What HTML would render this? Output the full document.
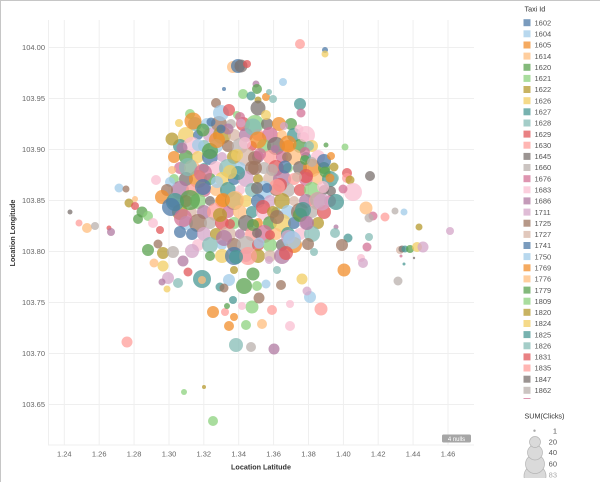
<!DOCTYPE html>
<html><head><meta charset="utf-8"><style>
html,body{margin:0;padding:0;background:#fff;}
body{width:600px;height:482px;overflow:hidden;}
svg{display:block;font-family:"Liberation Sans",sans-serif;}
.pts circle{fill-opacity:.75}
.lt{fill:#86BCB6}.o{fill:#F28E2B}.pu{fill:#B07AA1}.lb{fill:#A0CBE8}.g{fill:#59A14F}
.p{fill:#FF9D9A}.br{fill:#9D7660}.y{fill:#F1CE63}.m{fill:#D37295}.lgr{fill:#BAB0AC}
.b{fill:#4E79A7}.lo{fill:#FFBE7D}.r{fill:#E15759}.lpu{fill:#D4A6C8}.t{fill:#499894}
.lg{fill:#8CD17D}.ol{fill:#B6992D}.lp{fill:#FABFD2}.gr{fill:#79706E}.tn{fill:#D7B5A6}
.sw rect{fill-opacity:.75}
.tk{font-size:7.5px;fill:#666}
.lt2{font-size:7.5px;fill:#555}
</style></head><body>
<svg width="600" height="482" viewBox="0 0 600 482" xmlns="http://www.w3.org/2000/svg">
<rect x="0" y="0" width="600" height="482" fill="#fff"/>
<line x1="0.5" y1="0" x2="0.5" y2="482" stroke="#c6c6c6" stroke-width="1"/>
<line x1="0" y1="0.5" x2="600" y2="0.5" stroke="#c6c6c6" stroke-width="1"/>
<defs><clipPath id="lc"><rect x="515" y="0" width="85" height="399"/></clipPath>
<clipPath id="sc"><rect x="515" y="420" width="85" height="58"/></clipPath></defs>
<!-- grid -->
<g stroke="#efefef" stroke-width="1">
<line x1="48.5" y1="20" x2="48.5" y2="445"/>
<line x1="64.3" y1="20" x2="64.3" y2="445"/><line x1="99.2" y1="20" x2="99.2" y2="445"/>
<line x1="134.1" y1="20" x2="134.1" y2="445"/><line x1="169" y1="20" x2="169" y2="445"/>
<line x1="203.8" y1="20" x2="203.8" y2="445"/><line x1="238.7" y1="20" x2="238.7" y2="445"/>
<line x1="273.6" y1="20" x2="273.6" y2="445"/><line x1="308.5" y1="20" x2="308.5" y2="445"/>
<line x1="343.4" y1="20" x2="343.4" y2="445"/><line x1="378.2" y1="20" x2="378.2" y2="445"/>
<line x1="413.1" y1="20" x2="413.1" y2="445"/><line x1="448" y1="20" x2="448" y2="445"/>
<line x1="48" y1="47.5" x2="474" y2="47.5"/><line x1="48" y1="98.5" x2="474" y2="98.5"/>
<line x1="48" y1="149.5" x2="474" y2="149.5"/><line x1="48" y1="200.5" x2="474" y2="200.5"/>
<line x1="48" y1="251.5" x2="474" y2="251.5"/><line x1="48" y1="302.5" x2="474" y2="302.5"/>
<line x1="48" y1="353.5" x2="474" y2="353.5"/><line x1="48" y1="404.5" x2="474" y2="404.5"/>
<line x1="48" y1="445" x2="474" y2="445"/>
</g>
<!-- y ticks -->
<g class="tk" text-anchor="end">
<text x="45" y="50.2">104.00</text><text x="45" y="101.2">103.95</text>
<text x="45" y="152.2">103.90</text><text x="45" y="203.2">103.85</text>
<text x="45" y="254.2">103.80</text><text x="45" y="305.2">103.75</text>
<text x="45" y="356.2">103.70</text><text x="45" y="407.2">103.65</text>
</g>
<g class="tk" text-anchor="middle">
<text x="64.3" y="456.7">1.24</text><text x="99.2" y="456.7">1.26</text>
<text x="134.1" y="456.7">1.28</text><text x="169" y="456.7">1.30</text>
<text x="203.8" y="456.7">1.32</text><text x="238.7" y="456.7">1.34</text>
<text x="273.6" y="456.7">1.36</text><text x="308.5" y="456.7">1.38</text>
<text x="343.4" y="456.7">1.40</text><text x="378.2" y="456.7">1.42</text>
<text x="413.1" y="456.7">1.44</text><text x="448" y="456.7">1.46</text>
</g>
<text x="261" y="469.5" text-anchor="middle" font-size="7.2" font-weight="bold" fill="#333">Location Latitude</text>
<text transform="translate(15,233) rotate(-90)" text-anchor="middle" font-size="7.2" font-weight="bold" fill="#333">Location Longitude</text>
<!-- nulls -->
<rect x="442" y="434.5" width="29" height="8" rx="1.5" fill="#a6a6a6"/>
<text x="456.5" y="441" text-anchor="middle" font-size="6" fill="#fff">4 nulls</text>
<!-- points -->
<g class="pts">
<!-- filler core -->
<circle class="lt" cx="195" cy="124" r="7"/><circle class="lb" cx="207" cy="124" r="6"/><circle class="br" cx="219" cy="124" r="8"/><circle class="lgr" cx="231" cy="124" r="5"/><circle class="r" cx="243" cy="124" r="7"/><circle class="lg" cx="255" cy="124" r="9"/><circle class="gr" cx="267" cy="124" r="6"/><circle class="o" cx="279" cy="124" r="7"/><circle class="g" cx="291" cy="124" r="6"/>
<circle class="y" cx="186" cy="135" r="8"/><circle class="b" cx="198" cy="135" r="5"/><circle class="lpu" cx="210" cy="135" r="7"/><circle class="ol" cx="222" cy="135" r="9"/><circle class="tn" cx="234" cy="135" r="6"/><circle class="pu" cx="246" cy="135" r="7"/><circle class="p" cx="258" cy="135" r="6"/><circle class="m" cx="270" cy="135" r="8"/><circle class="lo" cx="282" cy="135" r="5"/><circle class="t" cx="294" cy="135" r="7"/><circle class="lp" cx="306" cy="135" r="9"/>
<circle class="t" cx="180" cy="146" r="7"/><circle class="lp" cx="192" cy="146" r="9"/><circle class="lt" cx="204" cy="146" r="6"/><circle class="lb" cx="216" cy="146" r="7"/><circle class="br" cx="228" cy="146" r="6"/><circle class="lgr" cx="240" cy="146" r="8"/><circle class="r" cx="252" cy="146" r="5"/><circle class="lg" cx="264" cy="146" r="7"/><circle class="gr" cx="276" cy="146" r="9"/><circle class="o" cx="288" cy="146" r="6"/><circle class="g" cx="300" cy="146" r="7"/><circle class="y" cx="312" cy="146" r="6"/>
<circle class="o" cx="174" cy="157" r="6"/><circle class="g" cx="186" cy="157" r="7"/><circle class="y" cx="198" cy="157" r="6"/><circle class="b" cx="210" cy="157" r="8"/><circle class="lpu" cx="222" cy="157" r="5"/><circle class="ol" cx="234" cy="157" r="7"/><circle class="tn" cx="246" cy="157" r="9"/><circle class="pu" cx="258" cy="157" r="6"/><circle class="p" cx="270" cy="157" r="7"/><circle class="m" cx="282" cy="157" r="6"/><circle class="lo" cx="294" cy="157" r="8"/><circle class="t" cx="306" cy="157" r="5"/><circle class="lp" cx="318" cy="157" r="7"/>
<circle class="m" cx="180" cy="168" r="6"/><circle class="lo" cx="192" cy="168" r="8"/><circle class="t" cx="204" cy="168" r="5"/><circle class="lp" cx="216" cy="168" r="7"/><circle class="lt" cx="228" cy="168" r="9"/><circle class="lb" cx="240" cy="168" r="6"/><circle class="br" cx="252" cy="168" r="7"/><circle class="lgr" cx="264" cy="168" r="6"/><circle class="r" cx="276" cy="168" r="8"/><circle class="lg" cx="288" cy="168" r="5"/><circle class="gr" cx="300" cy="168" r="7"/><circle class="o" cx="312" cy="168" r="9"/><circle class="g" cx="324" cy="168" r="6"/>
<circle class="lg" cx="174" cy="179" r="5"/><circle class="gr" cx="186" cy="179" r="7"/><circle class="o" cx="198" cy="179" r="9"/><circle class="g" cx="210" cy="179" r="6"/><circle class="y" cx="222" cy="179" r="7"/><circle class="b" cx="234" cy="179" r="6"/><circle class="lpu" cx="246" cy="179" r="8"/><circle class="ol" cx="258" cy="179" r="5"/><circle class="tn" cx="270" cy="179" r="7"/><circle class="pu" cx="282" cy="179" r="9"/><circle class="p" cx="294" cy="179" r="6"/><circle class="m" cx="306" cy="179" r="7"/><circle class="lo" cx="318" cy="179" r="6"/><circle class="t" cx="330" cy="179" r="8"/>
<circle class="pu" cx="180" cy="190" r="9"/><circle class="p" cx="192" cy="190" r="6"/><circle class="m" cx="204" cy="190" r="7"/><circle class="lo" cx="216" cy="190" r="6"/><circle class="t" cx="228" cy="190" r="8"/><circle class="lp" cx="240" cy="190" r="5"/><circle class="lt" cx="252" cy="190" r="7"/><circle class="lb" cx="264" cy="190" r="9"/><circle class="br" cx="276" cy="190" r="6"/><circle class="lgr" cx="288" cy="190" r="7"/><circle class="r" cx="300" cy="190" r="6"/><circle class="lg" cx="312" cy="190" r="8"/><circle class="gr" cx="324" cy="190" r="5"/>
<circle class="lgr" cx="174" cy="201" r="7"/><circle class="r" cx="186" cy="201" r="6"/><circle class="lg" cx="198" cy="201" r="8"/><circle class="gr" cx="210" cy="201" r="5"/><circle class="o" cx="222" cy="201" r="7"/><circle class="g" cx="234" cy="201" r="9"/><circle class="y" cx="246" cy="201" r="6"/><circle class="b" cx="258" cy="201" r="7"/><circle class="lpu" cx="270" cy="201" r="6"/><circle class="ol" cx="282" cy="201" r="8"/><circle class="tn" cx="294" cy="201" r="5"/><circle class="pu" cx="306" cy="201" r="7"/><circle class="p" cx="318" cy="201" r="9"/><circle class="m" cx="330" cy="201" r="6"/>
<circle class="ol" cx="180" cy="212" r="8"/><circle class="tn" cx="192" cy="212" r="5"/><circle class="pu" cx="204" cy="212" r="7"/><circle class="p" cx="216" cy="212" r="9"/><circle class="m" cx="228" cy="212" r="6"/><circle class="lo" cx="240" cy="212" r="7"/><circle class="t" cx="252" cy="212" r="6"/><circle class="lp" cx="264" cy="212" r="8"/><circle class="lt" cx="276" cy="212" r="5"/><circle class="lb" cx="288" cy="212" r="7"/><circle class="br" cx="300" cy="212" r="9"/><circle class="lgr" cx="312" cy="212" r="6"/><circle class="r" cx="324" cy="212" r="7"/>
<circle class="lb" cx="186" cy="223" r="7"/><circle class="br" cx="198" cy="223" r="9"/><circle class="lgr" cx="210" cy="223" r="6"/><circle class="r" cx="222" cy="223" r="7"/><circle class="lg" cx="234" cy="223" r="6"/><circle class="gr" cx="246" cy="223" r="8"/><circle class="o" cx="258" cy="223" r="5"/><circle class="g" cx="270" cy="223" r="7"/><circle class="y" cx="282" cy="223" r="9"/><circle class="b" cx="294" cy="223" r="6"/><circle class="lpu" cx="306" cy="223" r="7"/><circle class="ol" cx="318" cy="223" r="6"/>
<circle class="b" cx="192" cy="234" r="6"/><circle class="lpu" cx="204" cy="234" r="7"/><circle class="ol" cx="216" cy="234" r="6"/><circle class="tn" cx="228" cy="234" r="8"/><circle class="pu" cx="240" cy="234" r="5"/><circle class="p" cx="252" cy="234" r="7"/><circle class="m" cx="264" cy="234" r="9"/><circle class="lo" cx="276" cy="234" r="6"/><circle class="t" cx="288" cy="234" r="7"/><circle class="lp" cx="300" cy="234" r="6"/><circle class="lt" cx="312" cy="234" r="8"/>
<circle class="lp" cx="198" cy="245" r="6"/><circle class="lt" cx="210" cy="245" r="8"/><circle class="lb" cx="222" cy="245" r="5"/><circle class="br" cx="234" cy="245" r="7"/><circle class="lgr" cx="246" cy="245" r="9"/><circle class="r" cx="258" cy="245" r="6"/><circle class="lg" cx="270" cy="245" r="7"/><circle class="gr" cx="282" cy="245" r="6"/><circle class="o" cx="294" cy="245" r="8"/>
<circle class="g" cx="210" cy="256" r="5"/><circle class="y" cx="222" cy="256" r="7"/><circle class="b" cx="234" cy="256" r="9"/><circle class="lpu" cx="246" cy="256" r="6"/><circle class="ol" cx="258" cy="256" r="7"/><circle class="tn" cx="270" cy="256" r="6"/><circle class="pu" cx="282" cy="256" r="8"/>
<!-- outliers left -->
<circle class="gr" cx="70" cy="212" r="2.5"/><circle class="p" cx="79" cy="223" r="3.5"/><circle class="lo" cx="87" cy="228" r="5"/><circle class="lgr" cx="95" cy="226" r="4"/><circle class="r" cx="109" cy="228" r="2.5"/><circle class="pu" cx="111" cy="232" r="4"/>
<circle class="lb" cx="119" cy="188" r="4.5"/><circle class="br" cx="126" cy="189" r="3.5"/><circle class="ol" cx="129" cy="203" r="4.5"/><circle class="lo" cx="135" cy="199" r="3"/><circle class="r" cx="135" cy="206" r="4"/><circle class="g" cx="142" cy="212" r="5.5"/><circle class="g" cx="138" cy="219" r="5"/><circle class="lg" cx="148" cy="216" r="5"/><circle class="lp" cx="156" cy="180" r="5"/>
<circle class="lp" cx="153" cy="223" r="5"/><circle class="r" cx="160" cy="230" r="4"/>
<circle class="g" cx="148" cy="250" r="6"/><circle class="lo" cx="154" cy="263" r="4.5"/><circle class="br" cx="158" cy="244" r="4.5"/><circle class="ol" cx="163" cy="253" r="6"/><circle class="y" cx="163" cy="266" r="5.5"/><circle class="lgr" cx="173" cy="252" r="6"/><circle class="pu" cx="183" cy="261" r="5.5"/><circle class="lpu" cx="192" cy="251" r="7"/><circle class="r" cx="188" cy="272" r="4.5"/><circle class="lpu" cx="168" cy="278" r="6"/><circle class="pu" cx="162" cy="282" r="3.5"/><circle class="y" cx="167" cy="289" r="3.5"/><circle class="lt" cx="178" cy="283" r="5"/><circle class="t" cx="202" cy="279" r="9"/><circle class="lo" cx="202" cy="280" r="4"/>
<circle class="p" cx="127" cy="342" r="5.5"/><circle class="lg" cx="184" cy="392" r="3"/><circle class="ol" cx="204" cy="387" r="2"/><circle class="lg" cx="213" cy="421" r="5"/>
<!-- left-mid -->
<circle class="ol" cx="172" cy="139" r="6.5"/><circle class="pu" cx="182" cy="148" r="5.5"/><circle class="y" cx="179" cy="123" r="4"/><circle class="lg" cx="190" cy="114" r="5"/><circle class="o" cx="193" cy="121" r="8.5"/><circle class="lo" cx="172" cy="170" r="4"/><circle class="lb" cx="170" cy="182" r="5"/><circle class="br" cx="167" cy="190" r="6"/><circle class="o" cx="162" cy="197" r="7"/><circle class="lt" cx="188" cy="167" r="9"/><circle class="m" cx="203" cy="173" r="9"/><circle class="t" cx="175" cy="202" r="9"/><circle class="b" cx="171" cy="207" r="9"/><circle class="g" cx="190" cy="200" r="10"/><circle class="m" cx="183" cy="218" r="9"/><circle class="b" cx="180" cy="232" r="6"/><circle class="ol" cx="220" cy="215" r="7"/><circle class="b" cx="203" cy="187" r="8"/><circle class="lb" cx="198" cy="145" r="6"/><circle class="g" cx="210" cy="151" r="8"/><circle class="g" cx="203" cy="130" r="6.5"/><circle class="o" cx="217" cy="140" r="8"/>
<!-- top -->
<circle class="p" cx="300" cy="44" r="5"/><circle class="b" cx="325" cy="50" r="3"/><circle class="y" cx="325" cy="54" r="3.5"/><circle class="lo" cx="233" cy="67" r="6"/><circle class="b" cx="238" cy="66" r="7"/><circle class="gr" cx="241" cy="66" r="6.5"/><circle class="r" cx="247" cy="64" r="4"/>
<circle class="b" cx="224" cy="89" r="2"/><circle class="lb" cx="283" cy="82" r="4"/><circle class="pu" cx="256" cy="84" r="3.5"/><circle class="g" cx="257" cy="89" r="5"/><circle class="lg" cx="243" cy="94" r="5"/><circle class="t" cx="251" cy="96" r="4.5"/><circle class="o" cx="266" cy="97" r="4"/><circle class="lt" cx="269" cy="92" r="3"/><circle class="lt" cx="273" cy="99" r="4"/><circle class="ol" cx="258" cy="100" r="3.5"/><circle class="gr" cx="258" cy="108" r="7.5"/><circle class="y" cx="266" cy="115" r="5"/><circle class="t" cx="300" cy="104" r="6"/><circle class="m" cx="301" cy="113" r="4.5"/>
<circle class="br" cx="216" cy="103" r="5"/><circle class="lb" cx="221" cy="113" r="8"/><circle class="r" cx="229" cy="110" r="6"/><circle class="lg" cx="237" cy="115" r="4"/><circle class="b" cx="211" cy="122" r="4.5"/><circle class="m" cx="240" cy="117" r="5"/><circle class="lt" cx="253" cy="127" r="8.5"/><circle class="lpu" cx="241" cy="123" r="4.5"/><circle class="pu" cx="228" cy="129" r="5.5"/><circle class="b" cx="221" cy="129" r="4.5"/><circle class="lpu" cx="284" cy="126" r="4"/><circle class="lp" cx="299" cy="129" r="4.5"/><circle class="o" cx="258" cy="140" r="8.5"/><circle class="lp" cx="304" cy="137" r="5"/><circle class="o" cx="288" cy="144" r="8.5"/><circle class="pu" cx="275" cy="149" r="4"/><circle class="y" cx="237" cy="155" r="6"/><circle class="br" cx="287" cy="157" r="5"/><circle class="lt" cx="309" cy="146" r="5"/><circle class="m" cx="305" cy="152" r="5"/><circle class="g" cx="305" cy="160" r="5"/><circle class="lgr" cx="312" cy="162" r="5"/><circle class="r" cx="306" cy="176" r="7"/><circle class="b" cx="285" cy="167" r="6.5"/><circle class="tn" cx="297" cy="177" r="5"/><circle class="br" cx="255" cy="158" r="7"/><circle class="lp" cx="245" cy="143" r="6"/><circle class="t" cx="238" cy="173" r="7"/><circle class="br" cx="255" cy="168" r="7"/><circle class="m" cx="260" cy="154" r="6"/><circle class="lgr" cx="272" cy="170" r="6"/><circle class="r" cx="280" cy="185" r="7"/><circle class="y" cx="230" cy="172" r="7"/><circle class="lb" cx="217" cy="182" r="6"/>
<!-- right -->
<circle class="g" cx="326" cy="145" r="2.5"/><circle class="lg" cx="345" cy="147" r="3.5"/><circle class="b" cx="324" cy="161" r="7"/><circle class="o" cx="331" cy="156" r="4"/><circle class="ol" cx="334" cy="167" r="4.5"/><circle class="g" cx="325" cy="172" r="5.5"/><circle class="lt" cx="334" cy="178" r="5"/><circle class="o" cx="330" cy="178" r="4.5"/><circle class="r" cx="347" cy="173" r="5"/><circle class="p" cx="347" cy="178" r="5"/><circle class="ol" cx="350" cy="180" r="4.5"/><circle class="gr" cx="370" cy="176" r="5"/><circle class="lp" cx="353" cy="192" r="9"/><circle class="m" cx="343" cy="189" r="4.5"/><circle class="gr" cx="331" cy="191" r="5"/><circle class="lp" cx="323" cy="187" r="6"/><circle class="lgr" cx="318" cy="200" r="8"/><circle class="lpu" cx="322" cy="202" r="8.5"/><circle class="t" cx="336" cy="202" r="8"/>
<circle class="lo" cx="366" cy="208" r="6.5"/><circle class="m" cx="373" cy="216" r="4.5"/><circle class="lgr" cx="369" cy="218" r="4.5"/><circle class="p" cx="385" cy="217" r="4.5"/><circle class="lgr" cx="395" cy="211" r="3.5"/><circle class="lb" cx="404" cy="212" r="3.5"/><circle class="ol" cx="419" cy="227" r="3.5"/><circle class="lpu" cx="450" cy="231" r="4"/>
<circle class="pu" cx="336" cy="227" r="2.5"/><circle class="lt" cx="335" cy="233" r="5"/><circle class="t" cx="348" cy="238" r="4.5"/><circle class="br" cx="342" cy="245" r="6"/><circle class="lt" cx="369" cy="237" r="4"/><circle class="m" cx="367" cy="247" r="4.5"/><circle class="lp" cx="361" cy="258" r="4"/><circle class="lpu" cx="363" cy="263" r="5"/><circle class="o" cx="344" cy="270" r="6.5"/>
<circle class="tn" cx="400" cy="250" r="4"/><circle class="gr" cx="402" cy="249" r="3.5"/><circle class="t" cx="405" cy="249" r="3.5"/><circle class="g" cx="410" cy="249" r="4"/><circle class="y" cx="417" cy="247" r="5"/><circle class="lpu" cx="423" cy="247" r="5.5"/><circle class="m" cx="401" cy="256" r="1.5"/><circle class="gr" cx="414" cy="258" r="1.2"/><circle class="t" cx="404" cy="264" r="1.5"/><circle class="lgr" cx="398" cy="281" r="4.5"/><circle class="p" cx="321" cy="309" r="6.5"/>
<!-- core specific -->
<circle class="p" cx="277" cy="187" r="8"/><circle class="gr" cx="257" cy="188" r="6"/><circle class="b" cx="267" cy="188" r="5"/><circle class="r" cx="263" cy="207" r="7"/><circle class="ol" cx="273" cy="212" r="6"/><circle class="br" cx="277" cy="217" r="7"/><circle class="g" cx="300" cy="215" r="7"/><circle class="t" cx="303" cy="210" r="8"/><circle class="pu" cx="307" cy="223" r="7"/><circle class="g" cx="253" cy="225" r="6"/><circle class="gr" cx="257" cy="233" r="5"/><circle class="pu" cx="224" cy="238" r="8"/><circle class="r" cx="230" cy="224" r="5"/><circle class="r" cx="270" cy="235" r="5"/><circle class="lpu" cx="288" cy="237" r="7"/><circle class="lb" cx="292" cy="240" r="9"/><circle class="br" cx="308" cy="244" r="6"/><circle class="lt" cx="314" cy="252" r="4"/><circle class="lb" cx="259" cy="243" r="5.5"/><circle class="p" cx="248" cy="256" r="9"/><circle class="t" cx="236" cy="257" r="7"/><circle class="r" cx="286" cy="253" r="7"/><circle class="lpu" cx="269" cy="260" r="4"/><circle class="lo" cx="235" cy="200" r="9"/><circle class="o" cx="223" cy="200" r="7"/>
<!-- lower -->
<circle class="o" cx="213" cy="312" r="6"/><circle class="p" cx="225" cy="312" r="4"/><circle class="o" cx="234" cy="317" r="4"/><circle class="o" cx="229" cy="326" r="5"/><circle class="t" cx="233" cy="300" r="4"/><circle class="g" cx="227" cy="306" r="3"/><circle class="lg" cx="252" cy="307" r="6.5"/><circle class="lg" cx="246" cy="325" r="5"/><circle class="lo" cx="262" cy="324" r="5"/><circle class="p" cx="272" cy="310" r="5"/><circle class="lp" cx="290" cy="304" r="4"/><circle class="lp" cx="290" cy="326" r="5"/><circle class="lp" cx="242" cy="306" r="4"/><circle class="lt" cx="236" cy="345" r="7"/><circle class="lgr" cx="251" cy="347" r="5"/><circle class="pu" cx="274" cy="349" r="5.5"/>
<circle class="lb" cx="310" cy="297" r="6"/><circle class="y" cx="302" cy="279" r="5.5"/><circle class="lpu" cx="307" cy="291" r="4.5"/><circle class="br" cx="281" cy="285" r="5"/><circle class="br" cx="259" cy="298" r="5.5"/><circle class="g" cx="244" cy="286" r="8"/><circle class="g" cx="253" cy="274" r="6.5"/><circle class="lg" cx="257" cy="286" r="5"/><circle class="lb" cx="266" cy="284" r="4.5"/><circle class="lt" cx="277" cy="270" r="4"/><circle class="ol" cx="234" cy="270" r="4"/><circle class="lb" cx="229" cy="280" r="6"/><circle class="t" cx="220" cy="287" r="4.5"/><circle class="br" cx="224" cy="288" r="4.5"/>
</g>
<!-- legend -->
<text x="524.5" y="11.5" font-size="7.2" fill="#333">Taxi Id</text>
<g clip-path="url(#lc)">
<g class="sw">
<rect class="b" x="523.5" y="19.2" width="7" height="7"/>
<rect class="lb" x="523.5" y="30.3" width="7" height="7"/>
<rect class="o" x="523.5" y="41.5" width="7" height="7"/>
<rect class="lo" x="523.5" y="52.6" width="7" height="7"/>
<rect class="g" x="523.5" y="63.8" width="7" height="7"/>
<rect class="lg" x="523.5" y="74.9" width="7" height="7"/>
<rect class="ol" x="523.5" y="86" width="7" height="7"/>
<rect class="y" x="523.5" y="97.2" width="7" height="7"/>
<rect class="t" x="523.5" y="108.3" width="7" height="7"/>
<rect class="lt" x="523.5" y="119.5" width="7" height="7"/>
<rect class="r" x="523.5" y="130.6" width="7" height="7"/>
<rect class="p" x="523.5" y="141.7" width="7" height="7"/>
<rect class="gr" x="523.5" y="152.9" width="7" height="7"/>
<rect class="lgr" x="523.5" y="164" width="7" height="7"/>
<rect class="m" x="523.5" y="175.2" width="7" height="7"/>
<rect class="lp" x="523.5" y="186.3" width="7" height="7"/>
<rect class="pu" x="523.5" y="197.4" width="7" height="7"/>
<rect class="lpu" x="523.5" y="208.6" width="7" height="7"/>
<rect class="br" x="523.5" y="219.7" width="7" height="7"/>
<rect class="tn" x="523.5" y="230.9" width="7" height="7"/>
<rect class="b" x="523.5" y="242" width="7" height="7"/>
<rect class="lb" x="523.5" y="253.1" width="7" height="7"/>
<rect class="o" x="523.5" y="264.3" width="7" height="7"/>
<rect class="lo" x="523.5" y="275.4" width="7" height="7"/>
<rect class="g" x="523.5" y="286.6" width="7" height="7"/>
<rect class="lg" x="523.5" y="297.7" width="7" height="7"/>
<rect class="ol" x="523.5" y="308.8" width="7" height="7"/>
<rect class="y" x="523.5" y="320" width="7" height="7"/>
<rect class="t" x="523.5" y="331.1" width="7" height="7"/>
<rect class="lt" x="523.5" y="342.3" width="7" height="7"/>
<rect class="r" x="523.5" y="353.4" width="7" height="7"/>
<rect class="p" x="523.5" y="364.5" width="7" height="7"/>
<rect class="gr" x="523.5" y="375.7" width="7" height="7"/>
<rect class="lgr" x="523.5" y="386.8" width="7" height="7"/>
<rect class="m" x="523.5" y="398" width="7" height="7"/>
</g>
<g class="lt2">
<text x="534.5" y="25.4">1602</text><text x="534.5" y="36.5">1604</text><text x="534.5" y="47.7">1605</text><text x="534.5" y="58.8">1614</text>
<text x="534.5" y="70">1620</text><text x="534.5" y="81.1">1621</text><text x="534.5" y="92.2">1622</text><text x="534.5" y="103.4">1626</text>
<text x="534.5" y="114.5">1627</text><text x="534.5" y="125.7">1628</text><text x="534.5" y="136.8">1629</text><text x="534.5" y="147.9">1630</text>
<text x="534.5" y="159.1">1645</text><text x="534.5" y="170.2">1660</text><text x="534.5" y="181.4">1676</text><text x="534.5" y="192.5">1683</text>
<text x="534.5" y="203.6">1686</text><text x="534.5" y="214.8">1711</text><text x="534.5" y="225.9">1725</text><text x="534.5" y="237.1">1727</text>
<text x="534.5" y="248.2">1741</text><text x="534.5" y="259.3">1750</text><text x="534.5" y="270.5">1769</text><text x="534.5" y="281.6">1776</text>
<text x="534.5" y="292.8">1779</text><text x="534.5" y="303.9">1809</text><text x="534.5" y="315">1820</text><text x="534.5" y="326.2">1824</text>
<text x="534.5" y="337.3">1825</text><text x="534.5" y="348.5">1826</text><text x="534.5" y="359.6">1831</text><text x="534.5" y="370.7">1835</text>
<text x="534.5" y="381.9">1847</text><text x="534.5" y="393">1862</text><text x="534.5" y="404.2">1864</text>
</g>
</g>
<text x="524.5" y="418.5" font-size="7.2" fill="#333">SUM(Clicks)</text>
<g clip-path="url(#sc)">
<g fill="#dadada" stroke="#b4b4b4" stroke-width="0.7">
<circle cx="535" cy="476" r="11"/>
<circle cx="535" cy="464" r="9.5"/>
<circle cx="535" cy="452.5" r="7.5"/>
<circle cx="535" cy="442" r="5.5"/>
</g>
<circle cx="534.5" cy="430.7" r="1.2" fill="#a8a8a8"/>
<g class="lt2" text-anchor="end">
<text x="557" y="433.3">1</text><text x="557" y="444.3">20</text><text x="557" y="454.8">40</text><text x="557" y="466.5">60</text><text x="557" y="477.5" fill="#aaa">83</text>
</g>
</g>
</svg>
</body></html>
